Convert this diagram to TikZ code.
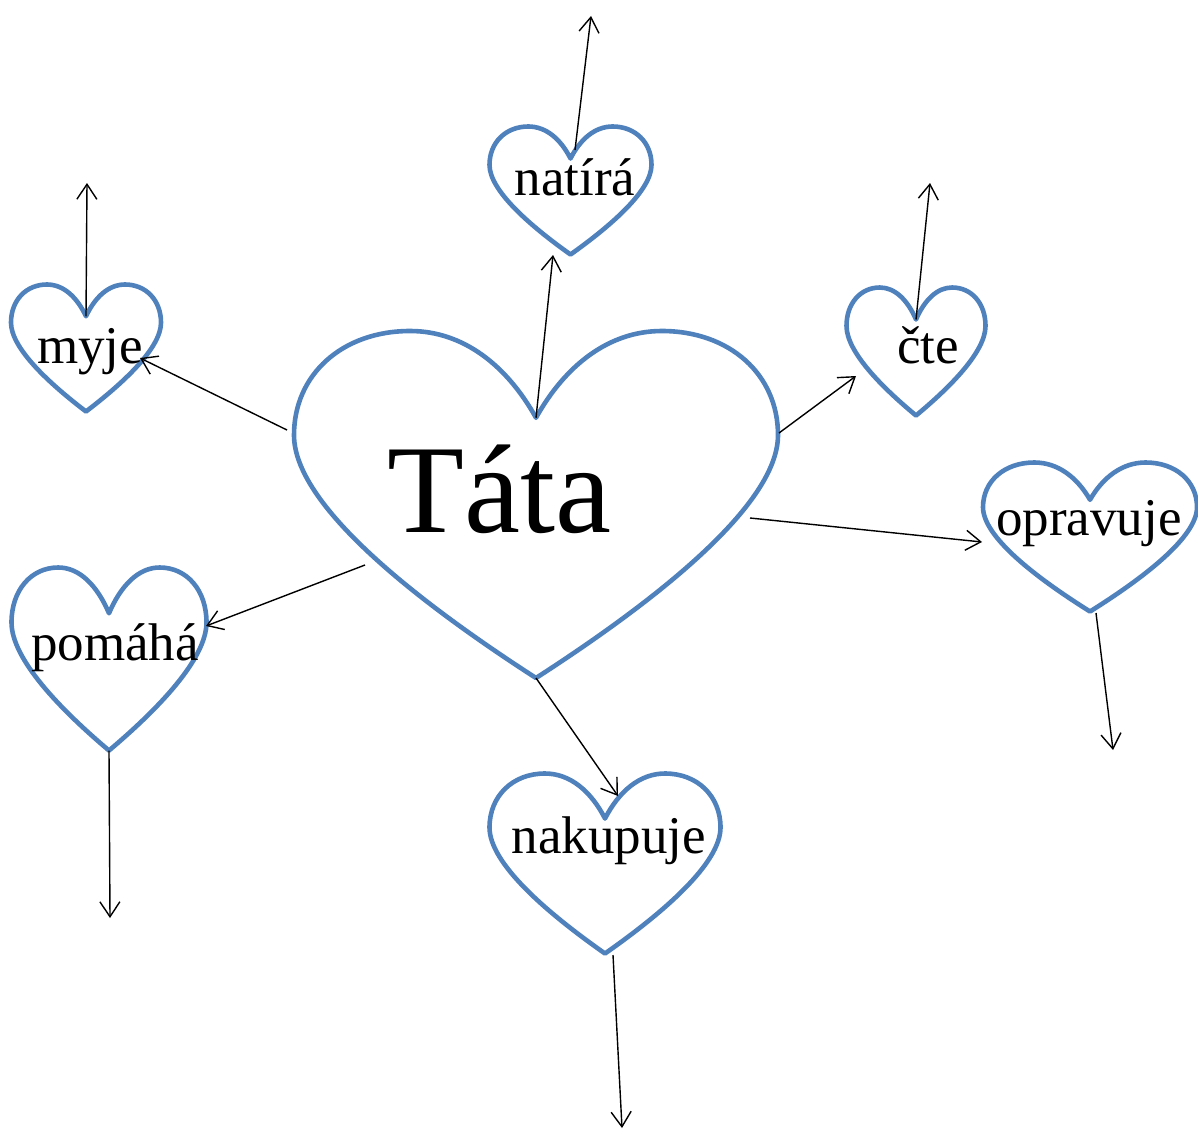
\documentclass[tikz,border=0pt]{standalone}
\usepackage{fontspec}
\setmainfont{Liberation Serif}
\usetikzlibrary{arrows.meta}
\definecolor{heartblue}{RGB}{79,129,189}
\tikzset{
    heartline/.style={draw=heartblue, line width=2.3pt, line join=round},
    conn/.style={-{Straight Barb[length=7.5pt,width=10pt]}, line width=0.7pt},
    lbl/.style={inner sep=0pt, anchor=base, font=\fontsize{26.5}{30}\selectfont},
    pics/heart/.style={code={
        \path[heartline] (0,-.5) .. controls (.12,-.8) and (.3,-1) .. (.52,-1)
            .. controls (.8,-1) and (1,-.75) .. (1,-.4)
            .. controls (1,0) and (.5,.55) .. (0,1)
            .. controls (-.5,.55) and (-1,0) .. (-1,-.4)
            .. controls (-1,-.75) and (-.8,-1) .. (-.52,-1)
            .. controls (-.3,-1) and (-.12,-.8) .. (0,-.5) -- cycle;
        \coordinate (-notch) at (0,-.5);
        \coordinate (-tip) at (0,1);
    }}
}
\begin{document}
\begin{tikzpicture}[x=0.5pt, y=-0.5pt]
            \useasboundingbox (0,0) rectangle (1198,1129);

            \pic[xscale=242, yscale=173.5] (tata) at (536,504.5) {heart};
            \pic[xscale=81, yscale=64] (natira) at (570.5,190.5) {heart};
            \pic[xscale=75, yscale=63.5] (myje) at (86,348) {heart};
            \pic[xscale=69.5, yscale=64] (cte) at (916,351.5) {heart};
            \pic[xscale=107, yscale=74.5] (opravuje) at (1090,537) {heart};
            \pic[xscale=97.5, yscale=91.5] (pomaha) at (109,659) {heart};
            \pic[xscale=115.5, yscale=90] (nakupuje) at (605,863.5) {heart};

            \node [lbl, font=\fontsize{63}{70}\selectfont] (tatatext) at (499,532) {Táta};
            \node [lbl] (natiratext) at (575,195) {natírá};
            \node [lbl] (myjetext) at (90,363) {myje};
            \node [lbl] (ctetext) at (928,363) {čte};
            \node [lbl] (opravujetext) at (1089,535) {opravuje};
            \node [lbl] (pomahatext) at (115,660) {pomáhá};
            \node [lbl] (nakupujetext) at (609,853) {nakupuje};

            \coordinate (tata-w) at (287,430);
            \coordinate (tata-e) at (779,433);
            \coordinate (tata-se) at (750,518);
            \coordinate (tata-sw) at (365,565);
            \coordinate (myje-in) at (140,358);
            \coordinate (natira-in) at (553,255);
            \coordinate (natira-top) at (575,150);
            \coordinate (cte-in) at (856,376);
            \coordinate (opravuje-in) at (982,542);
            \coordinate (opravuje-out) at (1096,613);
            \coordinate (pomaha-in) at (206,626);
            \coordinate (nakupuje-in) at (618,796);
            \coordinate (nakupuje-out) at (613,955);

            \coordinate (myje-end) at (87,183);
            \coordinate (natira-end) at (591,16);
            \coordinate (cte-end) at (930,183);
            \coordinate (opravuje-end) at (1113,750);
            \coordinate (pomaha-end) at (110,918);
            \coordinate (nakupuje-end) at (622,1128);

            \draw [conn] (tata-w) -- (myje-in);
            \draw [conn] (tata-notch) -- (natira-in);
            \draw [conn] (tata-e) -- (cte-in);
            \draw [conn] (tata-se) -- (opravuje-in);
            \draw [conn] (tata-sw) -- (pomaha-in);
            \draw [conn] (tata-tip) -- (nakupuje-in);

            \draw [conn] (myje-notch) -- (myje-end);
            \draw [conn] (natira-top) -- (natira-end);
            \draw [conn] (cte-notch) -- (cte-end);
            \draw [conn] (opravuje-out) -- (opravuje-end);
            \draw [conn] (pomaha-tip) -- (pomaha-end);
            \draw [conn] (nakupuje-out) -- (nakupuje-end);
\end{tikzpicture}
\end{document}
